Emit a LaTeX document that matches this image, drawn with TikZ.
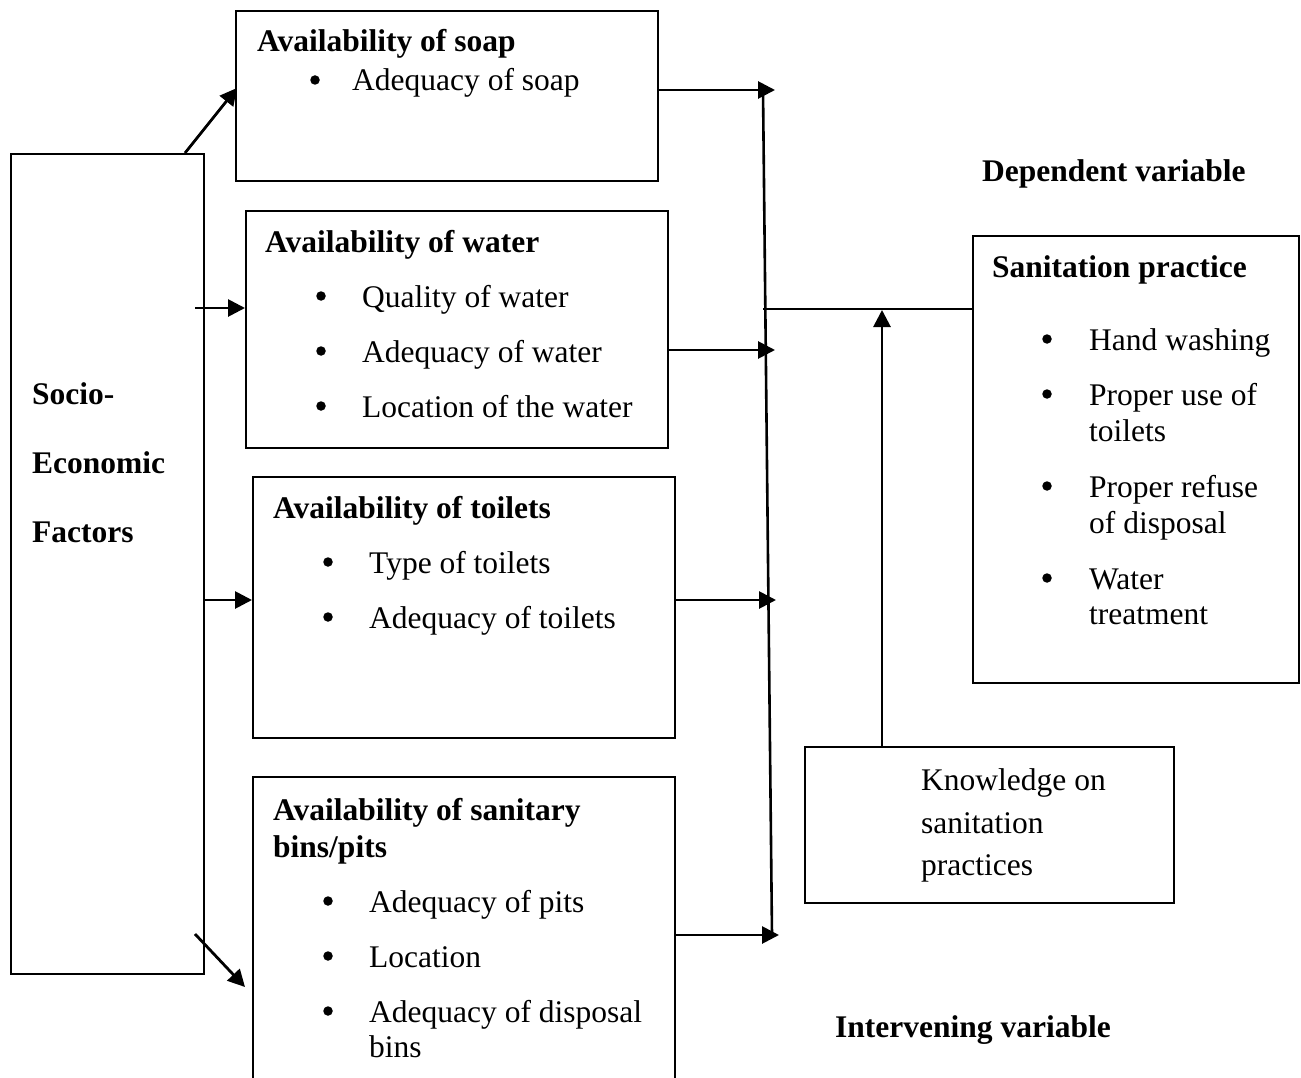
\documentclass[tikz,border=0pt]{standalone}
\usepackage{fontspec}
\setmainfont{Liberation Serif}
\usetikzlibrary{arrows.meta,calc}
\begin{document}
\begin{tikzpicture}[x=1pt,y=-1pt,
  box/.style={draw,line width=2.2pt,anchor=north west,inner sep=0pt},
  txt/.style={anchor=base west,inner sep=0pt,yshift=-12pt,font=\fontsize{31.5}{36}\selectfont},
  btxt/.style={txt,font=\fontsize{31.5}{36}\selectfont\bfseries},
  bul/.style={circle,fill,inner sep=0pt,minimum size=9.5pt},
  arr/.style={line width=2.8pt,-{Triangle[length=17pt,width=17pt]}},
  ln/.style={line width=2.6pt}]
\useasboundingbox (0,0) rectangle (1301,1078);
\clip (0,0) rectangle (1301,1078);
% boxes
\node[box,minimum width=193pt,minimum height=820pt] (socio) at (10,153) {};
\node[box,minimum width=422pt,minimum height=170pt] (soap) at (235,10) {};
\node[box,minimum width=422pt,minimum height=237pt] (water) at (245,210) {};
\node[box,minimum width=422pt,minimum height=261pt] (toil) at (252,476) {};
\node[box,minimum width=422pt,minimum height=320pt] (bins) at (252,776) {};
\node[box,minimum width=326pt,minimum height=447pt] (sani) at (972,235) {};
\node[box,minimum width=369pt,minimum height=156pt] (know) at (804,746) {};
% socio text
\node[btxt] (s1) at (32,392) {Socio-};
\node[btxt] (s2) at (32,461) {Economic};
\node[btxt] (s3) at (32,530) {Factors};
% soap
\node[btxt] (soapt) at (257,40) {Availability of soap};
\node[bul] (sb1) at (315,80) {};
\node[txt] (st1) at (352,79) {Adequacy of soap};
% water
\node[btxt] (watt) at (265,240) {Availability of water};
\node[bul] (wb1) at (321,296) {};
\node[txt] (wt1) at (362,295) {Quality of water};
\node[bul] (wb2) at (321,351) {};
\node[txt] (wt2) at (362,350) {Adequacy of water};
\node[bul] (wb3) at (321,406) {};
\node[txt] (wt3) at (362,405) {Location of the water};
% toilets
\node[btxt] (toit) at (273,506) {Availability of toilets};
\node[bul] (tb1) at (328,562) {};
\node[txt] (tt1) at (369,561) {Type of toilets};
\node[bul] (tb2) at (328,617) {};
\node[txt] (tt2) at (369,616) {Adequacy of toilets};
% bins
\node[btxt] (bint1) at (273,808) {Availability of sanitary};
\node[btxt] (bint2) at (273,845) {bins/pits};
\node[bul] (bb1) at (328,901) {};
\node[txt] (bt1) at (369,900) {Adequacy of pits};
\node[bul] (bb2) at (328,956) {};
\node[txt] (bt2) at (369,955) {Location};
\node[bul] (bb3) at (328,1011) {};
\node[txt] (bt3) at (369,1010) {Adequacy of disposal};
\node[txt] (bt4) at (369,1045) {bins};
% dependent
\node[btxt] (dep) at (982,170) {Dependent variable};
\node[btxt] (sanit) at (992,265) {Sanitation practice};
\node[bul] (pb1) at (1047,339) {};
\node[txt] (pt1) at (1089,338) {Hand washing};
\node[bul] (pb2) at (1047,394) {};
\node[txt] (pt2) at (1089,393) {Proper use of};
\node[txt] (pt2b) at (1089,429) {toilets};
\node[bul] (pb3) at (1047,486) {};
\node[txt] (pt3) at (1089,485) {Proper refuse};
\node[txt] (pt3b) at (1089,521) {of disposal};
\node[bul] (pb4) at (1047,578) {};
\node[txt] (pt4) at (1089,577) {Water};
\node[txt] (pt4b) at (1089,612) {treatment};
% knowledge
\node[txt] (k1) at (921,778) {Knowledge on};
\node[txt] (k2) at (921,821) {sanitation};
\node[txt] (k3) at (921,863) {practices};
\node[btxt] (inter) at (835,1025) {Intervening variable};
% collector line
\coordinate (vt) at (763,90);
\coordinate (vb) at (772,935);
\draw[ln] (vt) -- (vb);
\coordinate (hj) at (763,309);
\draw[ln] (hj) -- (sani.west |- hj);
% arrows from socio
\draw[arr] (socio.north west -| 185,0) -- (237,88);
\draw[arr] (socio.east |- 0,308) ++(-10,0) -- (water.west |- 0,308);
\draw[arr] (socio.east |- 0,600) -- (toil.west |- 0,600);
\draw[arr] (195,934) -- (245,987);
% arrows into collector
\draw[arr] (soap.east |- 0,90) -- (775,90);
\draw[arr] (water.east |- 0,350) -- (775,350);
\draw[arr] (toil.east |- 0,600) -- (776,600);
\draw[arr] (bins.east |- 0,935) -- (779,935);
% knowledge up
\draw[arr] (know.north -| 882,0) -- (882,310);
\end{tikzpicture}
\end{document}
